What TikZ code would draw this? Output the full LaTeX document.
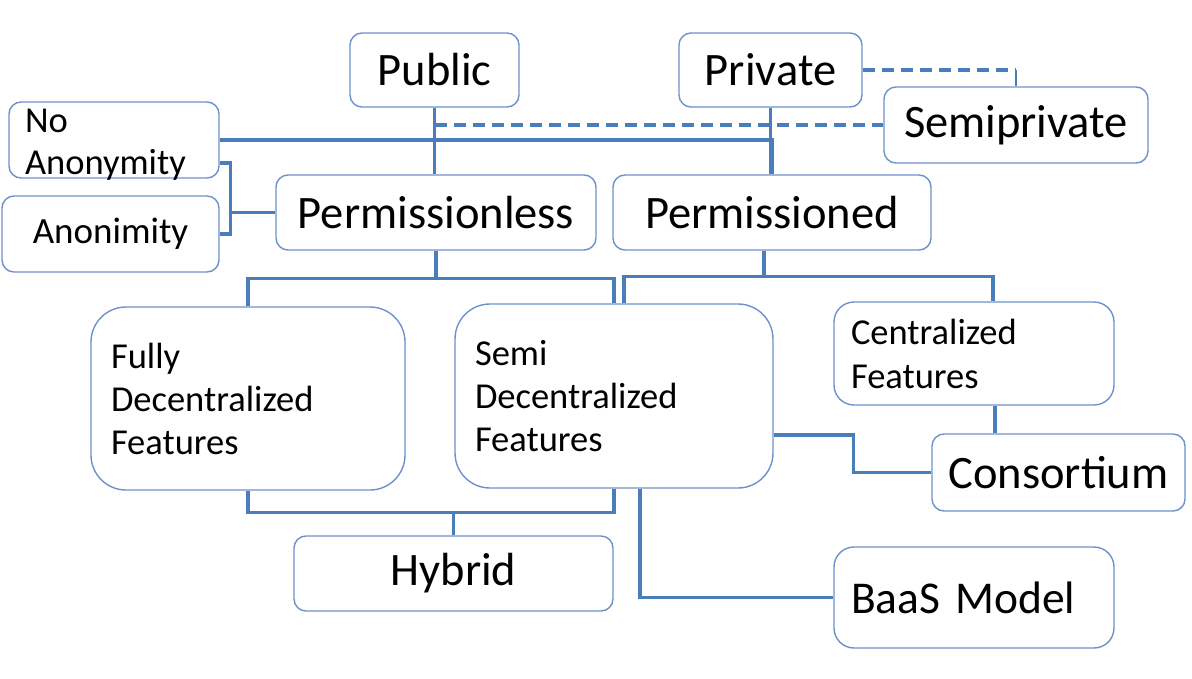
\documentclass[tikz,border=0pt]{standalone}
\usepackage{fontspec}
\setmainfont{Carlito}
\usetikzlibrary{calc}
\definecolor{boxc}{RGB}{110,145,205}
\definecolor{connc}{RGB}{74,126,187}
\tikzset{
  box/.style={draw=boxc, line width=1.4pt, rounded corners=12pt, inner sep=0pt, fill=white},
  bigbox/.style={box, font=\fontsize{46.5}{54}\selectfont},
  leftbox/.style={draw=boxc, line width=1.4pt, inner ysep=0pt, inner xsep=20pt, align=left, fill=white, font=\fontsize{36.5}{43}\selectfont},
  conn/.style={draw=connc, line width=3.4pt},
  dconn/.style={conn, dash pattern=on 12pt off 7pt},
}
\begin{document}
\begin{tikzpicture}[x=1pt,y=-1pt]
\useasboundingbox (0,0) rectangle (1192,678);
% nodes
\node[bigbox, minimum width=169pt, minimum height=74pt] (pub) at (434.5,70) {Public};
\node[bigbox, minimum width=183pt, minimum height=74pt] (priv) at (770.5,70) {Private};
\node[bigbox, minimum width=264pt, minimum height=76pt] (semip) at (1016,125) {Semiprivate};
\node[leftbox, rounded corners=12pt, inner xsep=16pt, text width=178pt, minimum height=76pt, text height=30pt, text depth=46pt, font=\fontsize{36.5}{42}\selectfont] (noan) at (114,140) {No\\Anonymity};
\node[box, minimum width=217pt, minimum height=76pt, font=\fontsize{37}{42}\selectfont] (anon) at (110.5,234) {Anonimity};
\node[bigbox, minimum width=320pt, minimum height=75pt] (pless) at (436,212.5) {Permissionless};
\node[bigbox, minimum width=318pt, minimum height=75pt] (perm) at (772,212.5) {Permissioned};
\node[leftbox, rounded corners=35pt, text width=274pt, minimum height=183pt] (fully) at (248,398.5) {Fully\\Decentralized\\Features};
\node[leftbox, rounded corners=35pt, text width=278pt, minimum height=184pt] (semi) at (614,396) {Semi\\Decentralized\\Features};
\node[leftbox, rounded corners=20pt, inner xsep=17pt, text width=246pt, minimum height=103pt, font=\fontsize{36.5}{44}\selectfont] (cent) at (974,353.5) {Centralized\\Features};
\node[bigbox, minimum width=253pt, minimum height=77pt] (cons) at (1058.5,472.5) {Consortium};
\node[bigbox, minimum width=319pt, minimum height=75pt] (hyb) at (453.5,573.5) {Hybrid};
\node[leftbox, rounded corners=20pt, inner xsep=17pt, text width=246pt, minimum height=101pt, font=\fontsize{45.5}{52}\selectfont] (baas) at (974,597.5) {BaaS Model};
% connectors
\draw[conn] (pub.south) -- (pub.south |- pless.north);
\draw[conn] (priv.south) -- (priv.south |- perm.north);
\draw[conn] (noan.east) -- (perm.north |- noan.east) -- (perm.north);
\draw[dconn] (pub.south |- semip.west) -- (semip.west);
\draw[dconn] (priv.east) -- (priv.east -| semip.north);
\draw[conn, line width=2pt] (priv.east -| semip.north) -- (semip.north);
\draw[conn] ([yshift=-23pt]noan.east) -- ++(11,0) coordinate (br) |- (anon.east);
\draw[conn] (pless.west) -- (pless.west -| br);
\draw[conn] (pless.south) -- ++(0,28) coordinate (j1);
\draw[conn] (fully.north) |- (j1) -| (semi.north);
\draw[conn] ([xshift=-8pt]perm.south) -- ++(0,26) coordinate (j2);
\draw[conn] ([xshift=10pt]semi.north) |- (j2) -| ([xshift=19pt]cent.north);
\draw[conn] ([xshift=21pt]cent.south) -- ([xshift=21pt]cent.south |- cons.north);
\draw[conn] ([yshift=-39pt]semi.east) -- ++(80,0) |- (cons.west);
\draw[conn] (fully.south) -- ++(0,22) coordinate (j3) -| (semi.south);
\draw[conn] (hyb.north) -- (hyb.north |- j3);
\draw[conn] ([xshift=26pt]semi.south) |- (baas.west);
\end{tikzpicture}
\end{document}
